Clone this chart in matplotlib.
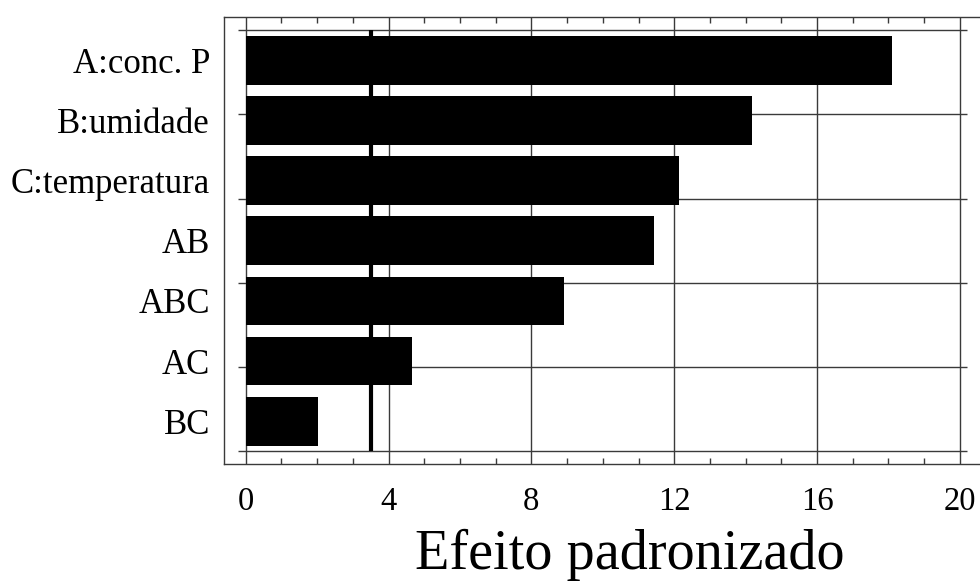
import matplotlib
matplotlib.use("Agg")
from matplotlib import pyplot as plt
from matplotlib.ticker import MultipleLocator

plt.rcParams['font.family'] = ['Liberation Serif', 'DejaVu Serif']

# data
effects = ['A:conc. P', 'B:umidade', 'C:temperatura', 'AB', 'ABC', 'AC', 'BC']
values = [18.1, 14.18, 12.12, 11.42, 8.92, 4.66, 2.03]
threshold = 3.51
x_ticks = [0, 4, 8, 12, 16, 20]

pos = list(range(1, len(effects) + 1))
line_col = '#3a3a3a'

fig = plt.figure(figsize=(9.8, 5.83), dpi=100)
ax = fig.add_axes([224/980, (583-464)/583, (982-224)/980, (464-17)/583])

# grid: vertical at major ticks, horizontal at equal steps
for xv in x_ticks:
    ax.axvline(xv, color=line_col, lw=1.0, zorder=1)
h_lines = [0.5 + 1.4*k for k in range(6)]
ax.hlines(h_lines, -0.22, 20.2, color=line_col, lw=1.0, zorder=1)

ax.barh(pos, values, height=0.81, color='black', zorder=2)
ax.vlines(threshold, 0.5, 7.5, color='black', lw=3, zorder=3)

ax.set_xlim(-0.61, 20.62)
ax.set_ylim(7.71, 0.28)

ax.set_xticks(x_ticks)
ax.set_xticklabels([str(v) for v in x_ticks])
ax.xaxis.set_minor_locator(MultipleLocator(1))
ax.tick_params(axis='x', which='major', length=0, pad=16, labelsize=23.5)
ax.tick_params(axis='x', which='minor', direction='in', length=4, width=1,
               color=line_col, top=True, bottom=True)

ax.set_yticks(pos)
ax.set_yticklabels(effects)
ax.tick_params(axis='y', which='major', length=0, pad=10, labelsize=25)

for s in ['left', 'bottom', 'top']:
    ax.spines[s].set_color(line_col)
    ax.spines[s].set_linewidth(1.0)
ax.spines['right'].set_visible(False)

ax.set_xlabel('Efeito padronizado', fontsize=40.5)
ax.xaxis.set_label_coords((630-224)/(982-224), -(581-464)/447)
ax.xaxis.label.set_va('bottom')

fig.savefig('out.png', dpi=100)
